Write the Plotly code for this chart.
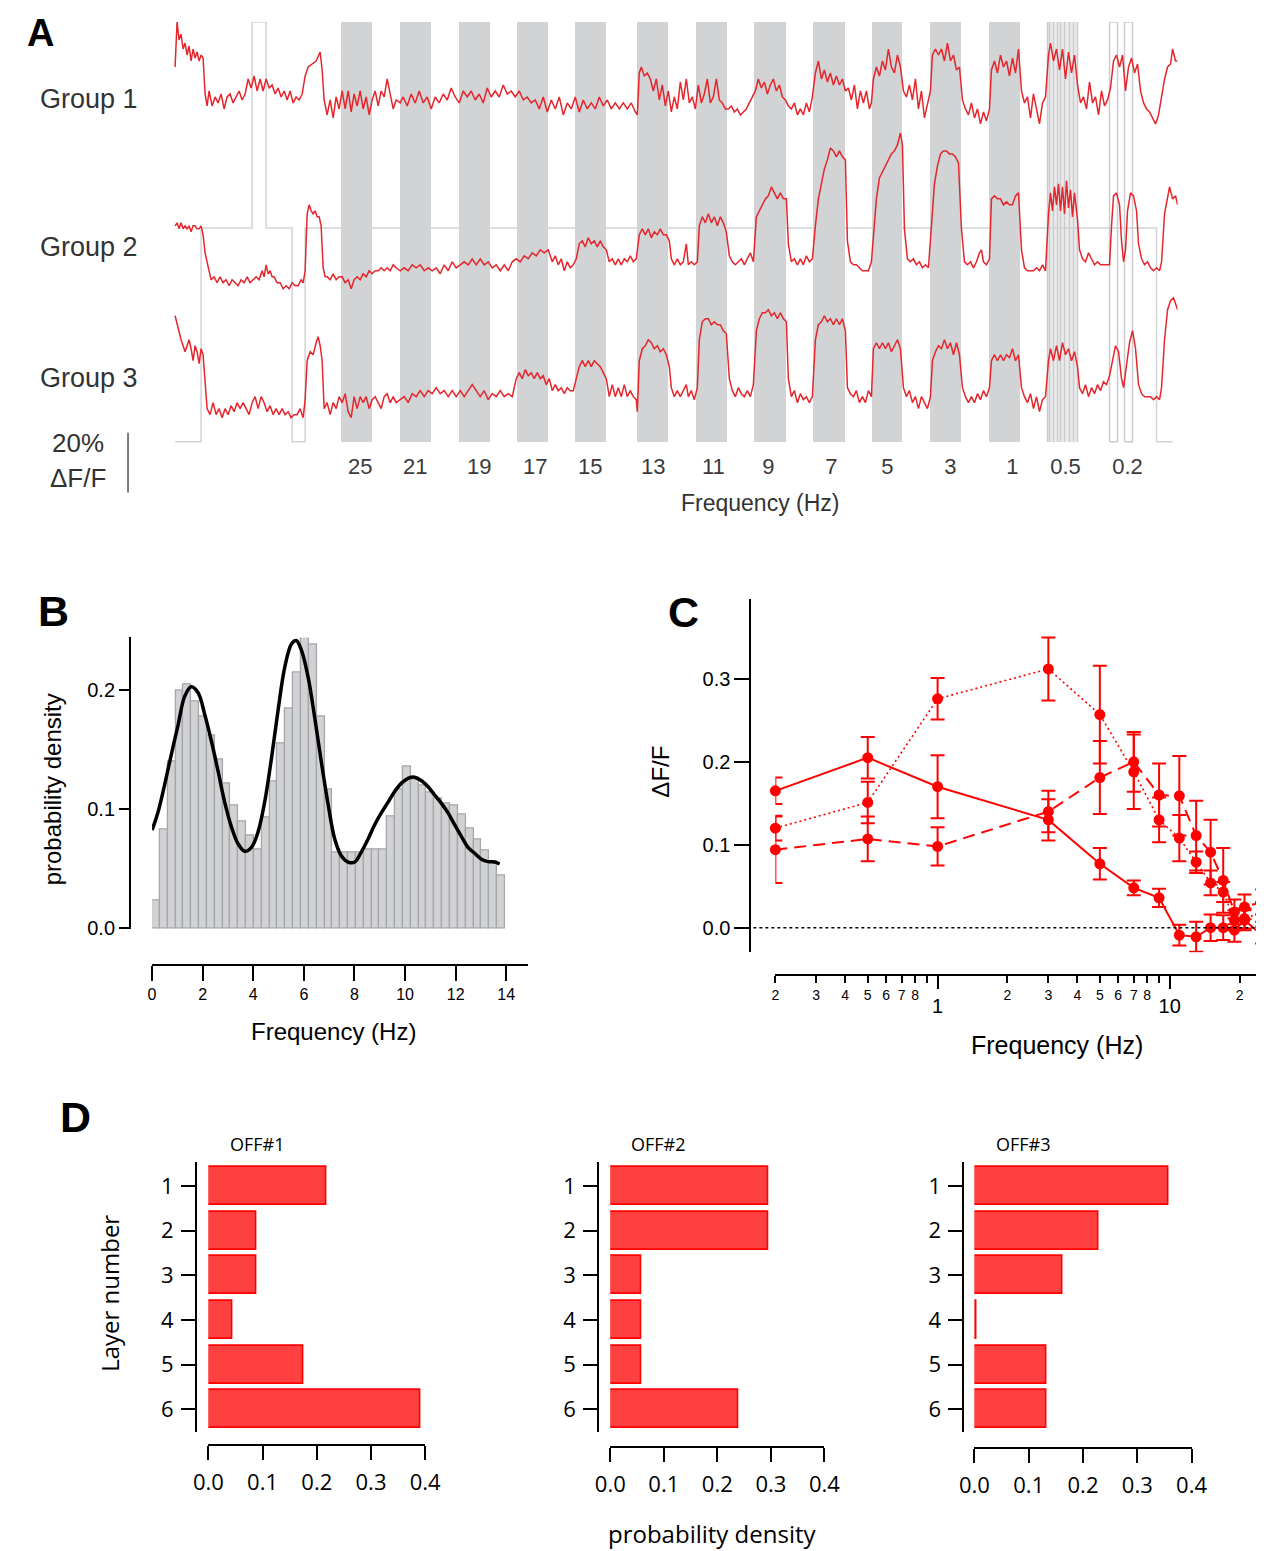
import plotly.graph_objects as go
import math

# Layout positions below are given in reference-picture pixels and mapped to the page
# (the capture of the page is slightly compressed horizontally; compensate for it).
CAP_X0, CAP_SX, CAP_SY = 15.2, 0.975, 0.9945
BODY = 8
W, H = 1264, 1551
def px(x): return ((x - CAP_X0) / CAP_SX - BODY) / W
def py(y): return 1 - (y / CAP_SY - BODY) / H
RIGHT_EDGE = CAP_X0 + CAP_SX * (W + BODY)     # picture x of the figure's right edge

SANS = "Liberation Sans, Arial, sans-serif"
OSANS = "Open Sans, DejaVu Sans, sans-serif"
RED = "#ff0000"

# ---------------- Panel A data ----------------
FREQ_LABELS = ["25", "21", "19", "17", "15", "13", "11", "9", "7", "5", "3", "1", "0.5", "0.2"]
FREQ_LABEL_FRAME = [360, 415, 479, 535, 590, 653, 713, 768, 831, 887, 950, 1012, 1065, 1127]
STIM_BAR_START = [341, 400, 459, 517, 575, 637, 696, 754, 813, 872, 930, 989]
STIM_BAR_END = [372, 431, 490, 548, 606, 668, 727, 786, 845, 902, 961, 1020]
PULSE05_REGION = [1047, 1078]
PULSE05_EDGES = [1047, 1049, 1053, 1057, 1060, 1064, 1069, 1073, 1077]
PULSE02_START = [1109, 1124]
PULSE02_END = [1117, 1132]
STEP_FRAMES = [175, 201, 252, 266, 292, 305, 1156, 1172]
STEP_LEVELS = ["black", "mean", "white", "mean", "black", "mean", "black", "black"]
LEVEL = {"black": 0.0, "mean": 71.3, "white": 140.0}

G1 = [(175,12),(177,27),(179,21),(181,23),(183,18),(185,20),(187,16),(189,19),(191,14),(193,18),(195,15),(197,17),(199,14),(201,16),(203,15),(205,3),(207,-1),(209,4),(212,-1),(215,2),(218,0),(221,3),(224,-2),(227,2),(230,3),(233,0),(236,2),(239,4),(242,1),(245,3),(248,8),(251,5),(254,9),(257,4),(260,8),(263,4),(266,8),(269,5),(272,6),(275,3),(278,5),(281,2),(284,4),(287,1),(290,4),(293,0),(296,2),(299,1),(302,3),(305,9),(308,12),(312,13),(316,14),(320,17),(322,11),(324,1),(327,-4),(330,1),(333,-5),(336,2),(339,-2),(342,4),(345,-2),(348,4),(351,-3),(354,3),(357,-1),(360,4),(363,-2),(366,2),(369,-4),(372,1),(375,4),(378,-1),(381,4),(384,2),(387,8),(390,3),(393,-2),(396,1),(400,0),(403,2),(407,-1),(411,3),(415,0),(419,4),(423,0),(427,2),(431,-2),(435,2),(439,0),(443,3),(447,1),(451,5),(455,2),(459,0),(463,4),(467,2),(471,4),(475,1),(479,3),(483,0),(487,5),(491,2),(495,4),(499,2),(503,6),(507,3),(511,4),(515,2),(519,4),(523,1),(527,2),(531,0),(535,1),(539,-2),(543,2),(547,-3),(551,1),(555,-2),(559,2),(563,-4),(567,0),(571,-2),(575,2),(579,-3),(583,1),(587,-2),(591,0),(595,-2),(599,2),(603,-1),(607,1),(611,-2),(615,0),(619,-2),(623,0),(627,-2),(631,0),(635,-3),(637,-4),(639,10),(641,12),(644,9),(647,10),(650,8),(653,4),(656,8),(659,1),(662,6),(665,-1),(668,4),(671,-3),(674,2),(677,-2),(680,7),(683,1),(686,8),(689,0),(692,2),(695,-2),(698,6),(701,0),(704,3),(707,8),(710,0),(713,2),(716,8),(719,1),(722,0),(725,-2),(728,-2),(731,-1),(734,-3),(737,-2),(740,-4),(743,-3),(746,-2),(749,0),(752,2),(755,4),(758,8),(761,5),(764,7),(767,3),(770,6),(773,8),(776,4),(779,6),(782,2),(785,1),(788,-1),(791,-2),(794,0),(797,-4),(800,-2),(803,-4),(806,0),(809,-3),(812,2),(815,10),(818,14),(821,8),(824,11),(827,7),(830,10),(833,6),(836,9),(839,6),(842,8),(845,4),(848,5),(851,1),(854,6),(857,-2),(860,4),(863,0),(866,4),(869,-2),(871,0),(873,8),(876,12),(879,9),(882,14),(885,11),(888,18),(891,12),(894,10),(897,16),(900,12),(903,4),(906,2),(909,6),(912,1),(915,8),(918,-2),(921,4),(924,-5),(927,0),(930,4),(932,16),(935,18),(938,16),(941,18),(944,14),(947,20),(950,14),(953,16),(956,11),(959,12),(962,1),(965,-2),(968,-4),(971,0),(974,-5),(977,-2),(980,-7),(983,-3),(986,-6),(989,-2),(991,11),(994,14),(997,10),(1000,16),(1003,12),(1006,14),(1009,9),(1012,15),(1015,10),(1018,18),(1021,4),(1024,0),(1027,2),(1030,-5),(1033,3),(1036,-2),(1039,-7),(1042,0),(1045,2),(1048,16),(1050,20),(1053,14),(1056,18),(1059,11),(1062,18),(1065,8),(1068,17),(1071,10),(1074,16),(1077,6),(1080,0),(1083,2),(1086,-2),(1089,7),(1092,0),(1095,2),(1098,-4),(1101,4),(1104,-1),(1107,1),(1110,5),(1113,14),(1116,16),(1119,12),(1122,16),(1125,4),(1128,12),(1131,15),(1134,10),(1137,13),(1140,4),(1143,0),(1146,-2),(1149,-3),(1152,-5),(1155,-7),(1158,-4),(1161,2),(1164,8),(1167,12),(1170,13),(1172,18),(1175,14),(1177,14)]

G2 = [(175,15),(177,16),(179,14),(181,16),(183,14),(185,15),(187,14),(189,15),(191,13),(193,15),(195,15),(197,14),(199,14),(201,15),(203,12),(205,6),(207,3),(209,0),(211,-3),(214,-2),(217,-4),(220,-2),(223,-4),(226,-3),(229,-5),(232,-3),(235,-4),(238,-5),(241,-3),(244,-4),(247,-2),(250,-4),(253,-3),(256,-2),(259,-3),(262,0),(264,-2),(266,2),(268,-1),(270,0),(272,-2),(274,-2),(277,-4),(280,-4),(283,-6),(286,-5),(289,-6),(292,-4),(295,-5),(298,-5),(301,-3),(303,-4),(305,0),(307,19),(309,22),(311,20),(313,19),(315,20),(317,18),(319,18),(321,15),(323,1),(325,-2),(327,-2),(330,-3),(333,-1),(336,-3),(339,-2),(342,-2),(345,-4),(348,-3),(351,-6),(354,-3),(357,-2),(360,-3),(363,-1),(366,-2),(369,0),(372,-1),(375,0),(378,0),(381,1),(384,0),(387,1),(390,0),(393,2),(396,1),(400,0),(404,1),(408,0),(412,2),(416,1),(420,2),(424,0),(428,1),(432,0),(436,1),(440,-1),(444,2),(448,0),(452,3),(456,1),(460,2),(464,3),(468,2),(472,4),(476,2),(480,4),(484,2),(488,3),(492,1),(496,2),(500,0),(504,2),(508,0),(512,3),(516,4),(520,3),(524,5),(528,4),(532,6),(536,5),(540,7),(544,6),(548,7),(552,3),(555,5),(558,2),(561,4),(564,0),(567,3),(570,1),(573,2),(576,4),(579,9),(582,10),(585,8),(588,11),(591,9),(594,10),(597,8),(600,10),(603,8),(606,7),(609,3),(612,4),(615,2),(618,4),(621,2),(624,4),(627,3),(630,5),(633,3),(636,4),(639,12),(642,14),(645,12),(648,14),(651,11),(654,13),(657,12),(660,14),(663,12),(666,12),(669,10),(671,4),(674,2),(677,4),(680,2),(683,3),(686,9),(688,2),(691,3),(694,2),(697,3),(699,15),(702,18),(705,16),(708,19),(711,16),(714,18),(717,15),(720,18),(723,16),(726,13),(729,5),(732,3),(735,2),(738,3),(741,4),(744,2),(747,4),(750,6),(753,3),(756,18),(759,20),(762,22),(765,24),(768,25),(771,28),(774,26),(777,24),(780,26),(783,24),(786,24),(788,9),(791,3),(794,4),(797,2),(800,4),(803,2),(806,5),(809,3),(812,4),(815,15),(818,24),(821,29),(824,34),(827,37),(830,41),(833,40),(836,38),(839,40),(842,38),(845,37),(847,10),(850,3),(853,2),(856,2),(859,1),(862,0),(865,0),(868,0),(871,3),(873,12),(876,24),(879,31),(882,33),(885,35),(888,37),(891,39),(894,40),(897,42),(900,46),(902,42),(904,14),(907,4),(910,3),(913,4),(916,2),(919,3),(922,1),(925,2),(928,1),(931,14),(934,29),(937,35),(940,39),(943,40),(946,40),(949,39),(952,39),(955,38),(958,36),(961,14),(964,3),(967,2),(970,3),(973,1),(976,3),(979,6),(981,7),(983,3),(986,2),(989,4),(991,24),(994,25),(997,24),(1000,24),(1003,22),(1006,23),(1009,22),(1012,22),(1015,25),(1018,26),(1021,7),(1024,1),(1027,0),(1030,0),(1033,0),(1036,1),(1039,0),(1042,2),(1045,0),(1048,19),(1050,26),(1052,20),(1054,28),(1056,22),(1058,29),(1060,20),(1062,28),(1064,19),(1066,30),(1068,21),(1070,27),(1072,18),(1074,26),(1077,17),(1079,7),(1082,4),(1085,3),(1088,6),(1091,4),(1094,2),(1097,3),(1100,2),(1103,2),(1106,2),(1109,2),(1111,15),(1113,25),(1116,26),(1119,22),(1121,10),(1123,3),(1125,7),(1127,20),(1130,26),(1133,25),(1136,20),(1138,9),(1141,4),(1144,2),(1147,3),(1150,1),(1153,0),(1156,1),(1159,0),(1161,3),(1164,19),(1167,25),(1169,28),(1172,24),(1175,25),(1177,22)]

G3 = [(175,30),(177,27),(179,24),(181,22),(183,20),(185,18),(187,20),(189,22),(191,19),(193,15),(195,20),(197,18),(199,14),(201,19),(203,17),(205,9),(207,-1),(210,-3),(213,1),(216,-3),(219,-1),(222,-4),(225,-1),(228,-3),(231,0),(234,-2),(237,1),(240,-1),(243,1),(246,-1),(249,-3),(252,1),(255,3),(258,-1),(261,3),(264,1),(267,-2),(270,0),(273,-3),(276,-1),(279,-3),(282,-1),(285,-3),(288,-2),(291,-4),(294,-3),(297,-3),(300,-1),(303,-4),(305,2),(307,15),(310,18),(313,17),(316,21),(318,23),(320,20),(322,15),(324,-1),(327,1),(330,-3),(333,1),(336,-1),(339,3),(342,1),(345,4),(348,-2),(351,-4),(354,3),(357,-1),(360,3),(363,1),(366,3),(369,-1),(372,2),(375,3),(378,1),(381,-1),(384,3),(387,4),(390,1),(393,3),(396,1),(400,2),(404,3),(408,1),(412,4),(416,3),(420,5),(424,3),(428,5),(432,4),(436,6),(440,4),(444,5),(448,3),(452,5),(456,3),(460,5),(464,3),(468,5),(472,7),(476,5),(480,3),(484,5),(488,2),(492,4),(496,3),(500,5),(504,3),(508,4),(512,3),(516,9),(519,11),(522,9),(525,12),(528,10),(531,11),(534,9),(537,11),(540,9),(543,10),(546,7),(549,9),(552,5),(555,7),(558,5),(561,6),(564,4),(567,6),(570,5),(573,5),(576,9),(579,13),(582,15),(585,13),(588,15),(591,13),(594,15),(597,14),(600,13),(603,11),(606,9),(609,3),(612,7),(615,3),(618,6),(621,3),(624,7),(627,3),(630,5),(633,3),(636,2),(637,-2),(639,15),(642,19),(645,20),(648,22),(651,21),(654,19),(657,20),(660,18),(663,19),(666,17),(669,13),(671,6),(674,3),(677,5),(680,3),(683,5),(686,7),(688,3),(691,5),(694,2),(697,6),(699,22),(702,28),(705,29),(708,29),(711,27),(714,28),(717,27),(720,27),(723,25),(726,24),(729,9),(732,5),(735,3),(738,6),(741,4),(744,3),(747,5),(750,3),(753,7),(756,25),(759,29),(762,31),(765,31),(768,32),(771,30),(774,31),(777,29),(780,31),(783,29),(786,28),(788,9),(791,3),(794,5),(797,1),(800,4),(803,2),(806,3),(809,1),(812,3),(815,22),(818,27),(821,28),(824,30),(827,28),(830,29),(833,27),(836,29),(839,27),(842,29),(845,25),(847,6),(850,4),(853,3),(856,5),(859,1),(862,3),(865,1),(868,5),(871,3),(873,19),(876,21),(879,19),(882,21),(885,19),(888,21),(891,18),(894,20),(897,22),(900,19),(903,6),(906,3),(909,5),(912,1),(915,3),(918,-1),(921,3),(924,1),(927,-1),(930,3),(932,15),(935,18),(938,20),(941,19),(944,22),(947,19),(950,21),(953,17),(956,21),(959,17),(962,6),(965,3),(968,1),(971,3),(974,1),(977,4),(980,2),(983,5),(986,3),(989,6),(991,15),(994,17),(997,15),(1000,17),(1003,15),(1006,17),(1009,16),(1012,19),(1015,15),(1018,17),(1021,6),(1024,3),(1027,1),(1030,4),(1033,-1),(1036,3),(1039,-2),(1042,2),(1045,3),(1048,15),(1050,19),(1053,15),(1056,20),(1059,15),(1062,21),(1065,17),(1068,19),(1071,15),(1074,18),(1077,13),(1079,6),(1082,4),(1085,7),(1088,3),(1091,6),(1094,4),(1097,7),(1100,5),(1103,8),(1106,7),(1109,10),(1112,15),(1115,20),(1118,18),(1121,9),(1123,6),(1126,13),(1129,21),(1132,25),(1135,19),(1138,7),(1141,4),(1144,3),(1147,3),(1150,3),(1153,2),(1156,3),(1159,2),(1161,6),(1164,22),(1167,32),(1170,35),(1173,36),(1175,34),(1177,32)]

GROUP_NAMES = ["Group 1", "Group 2", "Group 3"]
GROUP_OFFSET = [113, 57, 12]       # vertical offset of each trace (in % dF/F units)
SCALE_BAR_PCT = 20

# ---------------- Panel B data ----------------
BIN_WIDTH = 0.31
HIST_DENSITY = [0.023, 0.083, 0.140, 0.200, 0.205, 0.191, 0.178, 0.162, 0.142, 0.122, 0.103, 0.090,
                0.078, 0.066, 0.093, 0.123, 0.155, 0.185, 0.215, 0.245, 0.239, 0.178, 0.117, 0.064,
                0.064, 0.064, 0.064, 0.066, 0.066, 0.066, 0.094, 0.117, 0.136, 0.125, 0.120, 0.114,
                0.109, 0.105, 0.103, 0.096, 0.084, 0.075, 0.065, 0.056, 0.044]
KDE_FREQ = [0.0, 0.24, 0.50, 0.76, 1.03, 1.29, 1.55, 1.82, 2.08, 2.35, 2.61, 2.87, 3.14, 3.40, 3.66,
            3.93, 4.19, 4.45, 4.72, 4.98, 5.24, 5.51, 5.70, 5.90, 6.17, 6.43, 6.69, 6.96, 7.22, 7.48,
            7.75, 8.01, 8.27, 8.54, 8.80, 9.06, 9.33, 9.59, 9.86, 10.12, 10.38, 10.65, 10.91, 11.17,
            11.44, 11.70, 11.96, 12.23, 12.49, 12.75, 13.02, 13.28, 13.54, 13.74]
KDE_DENSITY = [0.0825, 0.098, 0.121, 0.146, 0.171, 0.195, 0.203, 0.198, 0.180, 0.157, 0.132, 0.106,
               0.085, 0.071, 0.0647, 0.068, 0.081, 0.106, 0.143, 0.183, 0.219, 0.239, 0.242, 0.234,
               0.211, 0.177, 0.140, 0.104, 0.075, 0.061, 0.0556, 0.0556, 0.064, 0.075, 0.087, 0.097,
               0.106, 0.115, 0.122, 0.126, 0.127, 0.124, 0.119, 0.112, 0.105, 0.097, 0.087, 0.077,
               0.068, 0.063, 0.058, 0.056, 0.0556, 0.054]

# ---------------- Panel C data ----------------
FREQ_C = [0.2, 0.5, 1, 3, 5, 7, 9, 11, 13, 15, 17, 19, 21, 25]
SOLID = [0.165, 0.205, 0.170, 0.130, 0.077, 0.048, 0.036, -0.009, -0.011, 0.000, 0.000, -0.003, 0.009, -0.009]
SOLID_ERR = [0.016, 0.025, 0.038, 0.025, 0.019, 0.009, 0.011, 0.0125, 0.018, 0.016, 0.015, 0.014, 0.012, 0.010]
DASHED = [0.094, 0.107, 0.098, 0.140, 0.181, 0.200, 0.160, 0.159, 0.111, 0.091, 0.057, 0.019, 0.025, 0.031]
DASHED_ERR = [0.040, 0.027, 0.023, 0.025, 0.044, 0.036, 0.038, 0.048, 0.042, 0.039, 0.039, 0.015, 0.015, 0.015]
DOTTED = [0.120, 0.151, 0.276, 0.312, 0.257, 0.188, 0.130, 0.108, 0.079, 0.054, 0.043, 0.009, 0.011, 0.019]
DOTTED_ERR = [0.015, 0.025, 0.025, 0.038, 0.059, 0.045, 0.027, 0.028, 0.013, 0.015, 0.012, 0.012, 0.012, 0.012]
MINOR_TICKS = [0.2, 0.3, 0.4, 0.5, 0.6, 0.7, 0.8, 0.9, 2, 3, 4, 5, 6, 7, 8, 9, 20]
MINOR_TEXT = ["2", "3", "4", "5", "6", "7", "8", "", "2", "3", "4", "5", "6", "7", "8", "", "2"]
MAJOR_TICKS = [1, 10]

# ---------------- Panel D data ----------------
LAYERS = [1, 2, 3, 4, 5, 6]
OFF_NAMES = ["OFF#1", "OFF#2", "OFF#3"]
OFF1 = [0.218, 0.088, 0.088, 0.044, 0.175, 0.392]
OFF2 = [0.296, 0.296, 0.057, 0.057, 0.057, 0.239]
OFF3 = [0.358, 0.228, 0.162, 0.004, 0.132, 0.132]
D_TICKS = [0, 0.1, 0.2, 0.3, 0.4]

fig = go.Figure()

# ---- Panel A ----
fig.add_trace(go.Scatter(x=STEP_FRAMES, y=[LEVEL[s] for s in STEP_LEVELS], mode="lines",
                         line=dict(color="#d2d3d5", width=1.5, shape="hv"),
                         xaxis="x", yaxis="y", hoverinfo="skip"))
fig.add_trace(go.Bar(x=[(a + b) / 2 for a, b in zip(STIM_BAR_START, STIM_BAR_END)],
                     y=[LEVEL["white"]] * len(STIM_BAR_START), base=0,
                     width=[b - a for a, b in zip(STIM_BAR_START, STIM_BAR_END)],
                     marker=dict(color="#d1d3d4", line=dict(width=0)),
                     xaxis="x", yaxis="y", hoverinfo="skip"))
fig.add_trace(go.Bar(x=[sum(PULSE05_REGION) / 2], y=[LEVEL["white"]], base=0,
                     width=[PULSE05_REGION[1] - PULSE05_REGION[0]],
                     marker=dict(color="#ebebec", line=dict(width=0)),
                     xaxis="x", yaxis="y", hoverinfo="skip"))
lx, ly = [], []
for e in PULSE05_EDGES:
    lx += [e, e, None]
    ly += [LEVEL["black"], LEVEL["white"], None]
for a, b in zip(PULSE02_START, PULSE02_END):
    lx += [a, a, b, b, a, None]
    ly += [LEVEL["black"], LEVEL["white"], LEVEL["white"], LEVEL["black"], LEVEL["black"], None]
fig.add_trace(go.Scatter(x=lx, y=ly, mode="lines", line=dict(color="#cbcccf", width=1.5),
                         xaxis="x", yaxis="y", hoverinfo="skip"))

for g, off in zip([G1, G2, G3], GROUP_OFFSET):
    fig.add_trace(go.Scatter(x=[p[0] for p in g], y=[off + p[1] for p in g], mode="lines",
                             line=dict(color="#e5262c", width=1.5), xaxis="x", yaxis="y",
                             hoverinfo="skip"))

fig.add_trace(go.Scatter(x=FREQ_LABEL_FRAME, y=[-9] * len(FREQ_LABELS), mode="text", text=FREQ_LABELS,
                         textfont=dict(size=22, family=SANS, color="#3a3a3a"),
                         xaxis="x", yaxis="y", hoverinfo="skip"))
fig.add_trace(go.Scatter(x=[128, 128], y=[3, 3 - SCALE_BAR_PCT], mode="lines",
                         line=dict(color="#7a7a7a", width=2), xaxis="x", yaxis="y", hoverinfo="skip"))

# ---- Panel B ----
fig.add_trace(go.Bar(x=[(i + 0.5) * BIN_WIDTH for i in range(len(HIST_DENSITY))], y=HIST_DENSITY,
                     width=BIN_WIDTH, marker=dict(color="#d1d2d4", line=dict(color="#a5a7aa", width=1.3)),
                     xaxis="x2", yaxis="y2", hoverinfo="skip"))
fig.add_trace(go.Scatter(x=KDE_FREQ, y=KDE_DENSITY, mode="lines", line=dict(color="black", width=3.5, shape="spline"),
                         xaxis="x2", yaxis="y2", hoverinfo="skip"))

# ---- Panel C ----
def series(y, err, dash, width, xa):
    return go.Scatter(x=FREQ_C, y=y, mode="lines+markers",
                      line=dict(color=RED, width=width, dash=dash),
                      marker=dict(color=RED, size=11),
                      error_y=dict(type="data", array=err, color=RED, thickness=2, width=7),
                      xaxis=xa, yaxis="y3", cliponaxis=False, hoverinfo="skip")
fig.add_trace(series(SOLID, SOLID_ERR, "solid", 2, "x3"))
fig.add_trace(series(DASHED, DASHED_ERR, "12px,7px", 2, "x3"))
fig.add_trace(series(DOTTED, DOTTED_ERR, "2px,3px", 1.6, "x4"))

# ---- Panel D ----
for vals, xa, ya in zip([OFF1, OFF2, OFF3], ["x5", "x6", "x7"], ["y4", "y5", "y6"]):
    fig.add_trace(go.Bar(x=vals, y=LAYERS, orientation="h", width=0.85, base=0,
                         marker=dict(color="#ff4040", line=dict(color=RED, width=1.6)),
                         xaxis=xa, yaxis=ya, hoverinfo="skip"))

# ---------------- layout ----------------
def lin_axis(**kw):
    d = dict(showgrid=False, zeroline=False, showline=True, linecolor="black", linewidth=2,
             ticks="outside", tickwidth=2, tickcolor="black")
    d.update(kw)
    return d

def scale(a0, a1, v0, v1, p0, p1):
    """axis range so that values v0->picture p0 and v1->p1, over picture span a0..a1"""
    k = (v1 - v0) / (p1 - p0)
    return [v0 + (a0 - p0) * k, v0 + (a1 - p0) * k]

LOG_PER_PX = 1 / 232.0
LOG_LEFT = math.log10(0.2)
LOG_RIGHT = LOG_LEFT + (RIGHT_EDGE - 775) * LOG_PER_PX

layout = dict(
    width=W, height=H, margin=dict(l=0, r=0, t=0, b=0),
    paper_bgcolor="white", plot_bgcolor="rgba(0,0,0,0)", showlegend=False,
    barmode="overlay", bargap=0,
    xaxis=dict(domain=[px(100), px(1177)], range=[100, 1177], visible=False),
    yaxis=dict(domain=[py(500), py(22)], range=[-19.333, 140], visible=False),
    xaxis2=lin_axis(domain=[px(152), px(528)], range=scale(152, 528, 0, 14, 152, 506),
                    anchor="free", position=py(966),
                    ticklen=15, tickvals=list(range(0, 15, 2)),
                    tickfont=dict(size=16, family=SANS, color="black")),
    yaxis2=lin_axis(domain=[py(930), py(638)], range=scale(930, 638, 0, 0.2, 929, 691),
                    anchor="free", position=px(130),
                    ticklen=10, tickvals=[0, 0.1, 0.2], ticktext=["0.0", "0.1", "0.2"],
                    tickfont=dict(size=20, family=SANS, color="black")),
    xaxis3=lin_axis(type="log", domain=[px(775), 1], range=[LOG_LEFT, LOG_RIGHT],
                    anchor="free", position=py(976), ticklen=7, tickwidth=1.5,
                    tickvals=MINOR_TICKS, ticktext=MINOR_TEXT,
                    tickfont=dict(size=14, family=SANS, color="black")),
    xaxis4=lin_axis(type="log", domain=[px(775), 1], range=[LOG_LEFT, LOG_RIGHT],
                    anchor="free", position=py(976), showline=False, ticklen=13,
                    tickvals=MAJOR_TICKS, ticktext=["1", "10"],
                    tickfont=dict(size=20, family=SANS, color="black")),
    yaxis3=lin_axis(domain=[py(953), py(600)], range=scale(953, 600, 0, 0.3, 928.5, 679.5),
                    anchor="free", position=px(750),
                    ticklen=15, tickvals=[0, 0.1, 0.2, 0.3], ticktext=["0.0", "0.1", "0.2", "0.3"],
                    tickfont=dict(size=20, family=SANS, color="black")),
)
d_x = [(208.3, 425, 1446, 196), (610, 824, 1448, 598), (974, 1191, 1449, 963)]
for i, (x0, x1, yline, xline) in enumerate(d_x):
    layout["xaxis%d" % (5 + i)] = lin_axis(domain=[px(x0), px(x1)], range=[0, 0.4], anchor="free",
                                           position=py(yline), ticklen=14, tickvals=D_TICKS,
                                           ticktext=["%.1f" % t for t in D_TICKS], ticklabelstandoff=4,
                                           tickfont=dict(size=22, family=OSANS, color="black"))
    layout["yaxis%d" % (4 + i)] = lin_axis(domain=[py(1433), py(1163)], range=[6.5, 0.46], anchor="free",
                                           position=px(xline), ticklen=14, tickvals=LAYERS,
                                           ticklabelstandoff=3,
                                           tickfont=dict(size=22, family=OSANS, color="black"))
fig.update_layout(**layout)

fig.add_shape(type="line", xref="paper", x0=px(753), x1=1, yref="y3", y0=0, y1=0,
              line=dict(color="black", width=1.5, dash="dot"))

def ann(text, x, y, size, family=SANS, color="black", angle=0, xanchor="center", yanchor="middle"):
    fig.add_annotation(text=text, x=px(x), y=py(y), xref="paper", yref="paper", showarrow=False,
                       xanchor=xanchor, yanchor=yanchor, textangle=angle,
                       font=dict(size=size, family=family, color=color))

# panel letter A sits in the top-left corner of the figure
fig.add_annotation(text="<b>A</b>", x=0.002, y=0.999, xref="paper", yref="paper", showarrow=False,
                   xanchor="left", yanchor="top", font=dict(size=38, family=SANS, color="black"))
for name, yy in zip(GROUP_NAMES, [99, 247, 378]):
    ann(name, 89, yy, 27, color="#333333")
ann("20%", 78, 443, 26, color="#333333")
ann("ΔF/F", 78, 478, 26, color="#333333")
ann("Frequency (Hz)", 760, 503, 23, color="#333333")
ann("<b>B</b>", 53, 612, 43)
ann("probability density", 52, 790, 24, angle=-90)
ann("Frequency (Hz)", 333, 1032, 24)
ann("<b>C</b>", 683, 613, 43)
ann("ΔF/F", 660, 772, 24, angle=-90)
ann("Frequency (Hz)", 1056, 1046, 25)
ann("<b>D</b>", 75, 1118, 43)
for name, xx in zip(OFF_NAMES, [257, 658, 1023]):
    ann(name, xx, 1145, 18, family=OSANS)
ann("Layer number", 110, 1295, 24, family=OSANS, angle=-90)
ann("probability density", 712, 1535, 24, family=OSANS)

fig.write_html("out.html")
